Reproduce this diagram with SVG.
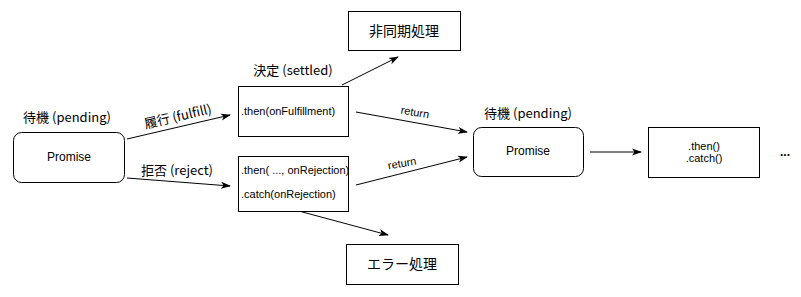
<svg xmlns="http://www.w3.org/2000/svg" width="801" height="297" viewBox="0 0 801 297">
<style>
.box{fill:#fff;stroke:#000;stroke-width:1}
.lbl{font-family:"Noto Sans CJK JP","Noto Sans",sans-serif;font-size:13px;fill:#000}
.jp{font-family:"Noto Sans CJK JP","Noto Sans",sans-serif;font-size:14px;fill:#000}
.code{font-family:"Liberation Sans",Arial,sans-serif;font-size:11px;fill:#000}
.pr{font-family:"Liberation Sans",Arial,sans-serif;font-size:12px;fill:#000}
.ret{font-family:"Liberation Sans",Arial,sans-serif;font-size:11px;fill:#000}
.edge{stroke:#000;stroke-width:1;fill:none;marker-end:url(#arr)}
</style>
<defs>
<marker id="arr" markerWidth="10" markerHeight="8" refX="9" refY="4" orient="auto" markerUnits="userSpaceOnUse">
<path d="M0,0.5 L10,4 L0,7.5 L2.5,4 z" fill="#000"/>
</marker>
</defs>
<rect width="801" height="297" fill="#fff"/>
<g id="connectors">
<line class="edge" x1="127" y1="139" x2="230" y2="115"/>
<line class="edge" x1="127" y1="178" x2="230" y2="186"/>
<line class="edge" x1="342" y1="85" x2="398" y2="57"/>
<line class="edge" x1="295" y1="210" x2="388" y2="235"/>
<line class="edge" x1="356" y1="112" x2="467" y2="132"/>
<line class="edge" x1="356" y1="185" x2="467" y2="157"/>
<line class="edge" x1="590" y1="152" x2="641" y2="152"/>
<text class="lbl" x="178" y="121" text-anchor="middle" transform="rotate(-13 178 117)">履行 (fulfill)</text>
<text class="lbl" x="177" y="175" text-anchor="middle">拒否 (reject)</text>
<text class="ret" x="415" y="116" text-anchor="middle" transform="rotate(10 415 112)">return</text>
<text class="ret" x="402" y="167" text-anchor="middle" transform="rotate(-10 402 163)">return</text>
</g>
<g id="promise1">
<text class="lbl" x="67" y="122" text-anchor="middle">待機 (pending)</text>
<rect class="box" x="13.5" y="132.5" width="111" height="50" rx="8"/>
<text class="pr" x="69" y="161" text-anchor="middle">Promise</text>
</g>
<g id="then1">
<text class="lbl" x="293" y="75" text-anchor="middle">決定 (settled)</text>
<rect class="box" x="238.5" y="86.5" width="110" height="50"/>
<text class="code" x="241" y="115">.then(onFulfillment)</text>
</g>
<g id="then2">
<rect class="box" x="238.5" y="156.5" width="110" height="55"/>
<text class="code" x="241" y="174">.then( ..., onRejection)</text>
<text class="code" x="241" y="198">.catch(onRejection)</text>
</g>
<g id="async">
<rect class="box" x="348.5" y="11.5" width="112" height="39"/>
<text class="jp" x="404" y="36" text-anchor="middle">非同期処理</text>
</g>
<g id="error">
<rect class="box" x="346.5" y="244.5" width="112" height="40"/>
<text class="jp" x="402" y="269" text-anchor="middle">エラー処理</text>
</g>
<g id="promise2">
<text class="lbl" x="528" y="118" text-anchor="middle">待機 (pending)</text>
<rect class="box" x="473.5" y="127.5" width="110" height="49" rx="8"/>
<text class="pr" x="528" y="155" text-anchor="middle">Promise</text>
</g>
<g id="then3">
<rect class="box" x="648.5" y="127.5" width="111" height="50"/>
<text class="code" x="704" y="150" text-anchor="middle">.then()</text>
<text class="code" x="704" y="162" text-anchor="middle">.catch()</text>
</g>
<g id="more">
<text class="pr" x="785" y="156" text-anchor="middle" font-weight="bold">...</text>
</g>
</svg>
